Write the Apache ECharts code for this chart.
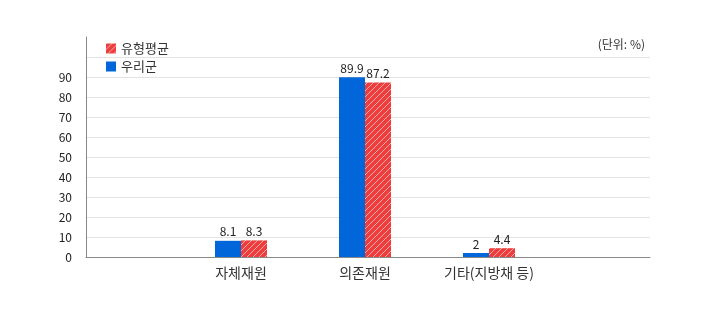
<!DOCTYPE html>
<html><head><meta charset="utf-8">
<script src="https://cdn.jsdelivr.net/npm/echarts@6/dist/echarts.min.js"></script>
<style>html,body{margin:0;padding:0;background:#fff}#c{width:701px;height:316px}</style>
</head><body><div id="c"></div>
<script>
var categories = ['자체재원', '의존재원', '기타(지방채 등)'];
var ourValues = [8.1, 89.9, 2];
var typeAvgValues = [8.3, 87.2, 4.4];
var seriesNames = ['우리군', '유형평균'];
var unitText = '(단위: %)';

var FONT = '"Noto Sans CJK KR", "Noto Sans", sans-serif';
var pc = document.createElement('canvas');
pc.width = 6; pc.height = 6;
var g = pc.getContext('2d');
g.fillStyle = '#ee3d3d'; g.fillRect(0, 0, 6, 6);
g.strokeStyle = 'rgba(255,255,255,0.7)'; g.lineWidth = 0.8;
g.beginPath(); g.moveTo(-1, 7); g.lineTo(7, -1); g.stroke();
g.beginPath(); g.moveTo(-1, 1); g.lineTo(1, -1); g.stroke();
g.beginPath(); g.moveTo(5, 7); g.lineTo(7, 5); g.stroke();
var hatch = {image: pc, repeat: 'repeat'};

var chart = echarts.init(document.getElementById('c'), null, {renderer: 'canvas'});
var lbl = {show: true, position: 'top', distance: 3, color: '#222', fontSize: 12, fontFamily: FONT};
chart.setOption({
  animation: false,
  textStyle: {fontFamily: FONT},
  title: {text: unitText, right: 51, top: 33, textStyle: {fontSize: 12, fontWeight: 'normal', color: '#333', fontFamily: FONT}},
  legend: {
    data: [seriesNames[1], seriesNames[0]], orient: 'vertical', left: 101, top: 37,
    itemWidth: 10, itemHeight: 10, itemGap: 5, icon: 'rect',
    textStyle: {fontSize: 13, color: '#333', fontFamily: FONT}
  },
  grid: [
    {left: 86, right: 51, top: 37, bottom: 59},
    {left: 179, width: 372, top: 37, bottom: 59}
  ],
  xAxis: [
    {gridIndex: 0, type: 'value', min: 0, max: 1, axisLine: {show: true, onZero: false, lineStyle: {color: '#888'}}, axisTick: {show: false}, axisLabel: {show: false}, splitLine: {show: false}},
    {gridIndex: 1, type: 'category', data: categories, axisLine: {show: false}, axisTick: {show: false},
     axisLabel: {fontSize: 14, color: '#333', margin: 9, fontFamily: FONT}}
  ],
  yAxis: [
    {gridIndex: 0, type: 'value', min: 0, max: 110, interval: 10,
     axisLine: {show: true, lineStyle: {color: '#888'}}, axisTick: {show: false},
     axisLabel: {fontSize: 12, color: '#222', margin: 14, fontFamily: FONT, formatter: function (v) { return v >= 100 ? '' : v; }},
     splitLine: {show: true, showMaxLine: false, lineStyle: {color: '#e3e3e3'}}},
    {gridIndex: 1, type: 'value', min: 0, max: 110, show: false, splitLine: {show: false}}
  ],
  series: [
    {name: seriesNames[0], type: 'bar', xAxisIndex: 1, yAxisIndex: 1, data: ourValues, barWidth: 26, barGap: '0%',
     itemStyle: {color: '#0066d9'}, label: lbl},
    {name: seriesNames[1], type: 'bar', xAxisIndex: 1, yAxisIndex: 1, data: typeAvgValues, barWidth: 26, barGap: '0%',
     itemStyle: {color: hatch}, label: lbl}
  ]
});
</script></body></html>
